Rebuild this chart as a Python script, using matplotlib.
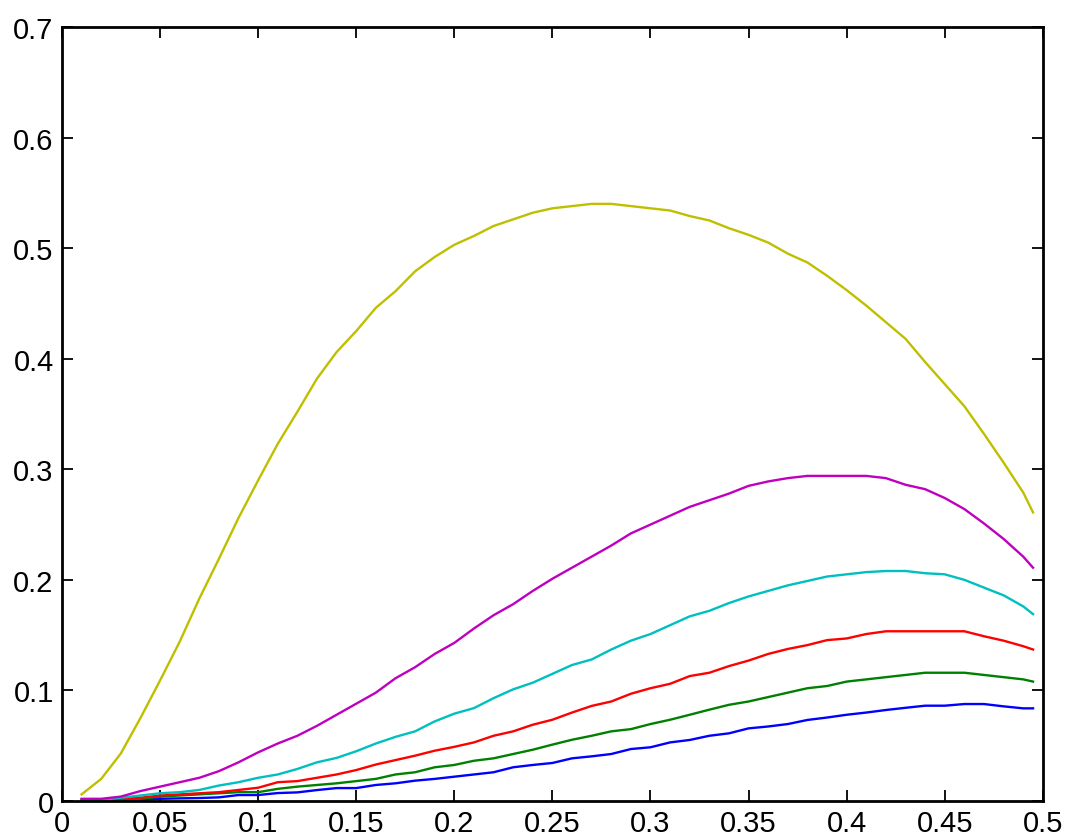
import matplotlib
matplotlib.use("Agg")
import matplotlib.pyplot as plt
from matplotlib.ticker import FormatStrFormatter

# x positions of the samples
x_vals = [0.01, 0.02, 0.03, 0.04, 0.05, 0.06, 0.07, 0.08, 0.09, 0.10,
          0.11, 0.12, 0.13, 0.14, 0.15, 0.16, 0.17, 0.18, 0.19, 0.20,
          0.21, 0.22, 0.23, 0.24, 0.25, 0.26, 0.27, 0.28, 0.29, 0.30,
          0.31, 0.32, 0.33, 0.34, 0.35, 0.36, 0.37, 0.38, 0.39, 0.40,
          0.41, 0.42, 0.43, 0.44, 0.45, 0.46, 0.47, 0.48, 0.49, 0.495]

blue = [0.0005, 0.0005, 0.001, 0.001, 0.002, 0.0024, 0.0027, 0.0033, 0.0054, 0.0054,
        0.0072, 0.0078, 0.0099, 0.0117, 0.0117, 0.0145, 0.016, 0.0184, 0.020, 0.022,
        0.024, 0.026, 0.0305, 0.0326, 0.0344, 0.0386, 0.0404, 0.0425, 0.047, 0.0486,
        0.053, 0.0552, 0.059, 0.0612, 0.0657, 0.0674, 0.0696, 0.0733, 0.0755, 0.078,
        0.080, 0.0823, 0.0843, 0.0862, 0.0862, 0.0877, 0.0877, 0.0856, 0.0838, 0.0838]

green = [0.001, 0.001, 0.001, 0.002, 0.004, 0.005, 0.006, 0.007, 0.008, 0.008,
         0.011, 0.013, 0.0145, 0.016, 0.018, 0.020, 0.024, 0.026, 0.0305, 0.0326,
         0.0364, 0.0386, 0.0425, 0.0464, 0.051, 0.0554, 0.059, 0.063, 0.065, 0.0696,
         0.0735, 0.078, 0.0826, 0.087, 0.090, 0.094, 0.098, 0.102, 0.104, 0.108,
         0.110, 0.112, 0.114, 0.116, 0.116, 0.116, 0.114, 0.112, 0.110, 0.108]

red = [0.001, 0.001, 0.002, 0.003, 0.005, 0.006, 0.007, 0.008, 0.010, 0.012,
       0.017, 0.018, 0.021, 0.024, 0.028, 0.033, 0.037, 0.041, 0.0455, 0.049,
       0.053, 0.059, 0.063, 0.069, 0.0735, 0.080, 0.086, 0.090, 0.097, 0.102,
       0.106, 0.113, 0.116, 0.122, 0.127, 0.133, 0.1375, 0.141, 0.1455, 0.147,
       0.151, 0.1535, 0.1535, 0.1535, 0.1535, 0.1535, 0.149, 0.145, 0.140, 0.137]

cyan = [0.001, 0.001, 0.003, 0.005, 0.007, 0.008, 0.010, 0.014, 0.017, 0.021,
        0.024, 0.029, 0.035, 0.039, 0.045, 0.052, 0.058, 0.063, 0.072, 0.079,
        0.084, 0.093, 0.101, 0.107, 0.115, 0.123, 0.128, 0.137, 0.145, 0.151,
        0.159, 0.167, 0.172, 0.179, 0.185, 0.190, 0.195, 0.199, 0.203, 0.205,
        0.207, 0.208, 0.208, 0.206, 0.205, 0.200, 0.193, 0.186, 0.176, 0.169]

magenta = [0.002, 0.002, 0.004, 0.009, 0.013, 0.017, 0.021, 0.027, 0.035, 0.044,
           0.052, 0.059, 0.068, 0.078, 0.088, 0.098, 0.111, 0.121, 0.133, 0.143,
           0.156, 0.168, 0.178, 0.190, 0.201, 0.211, 0.221, 0.231, 0.242, 0.250,
           0.258, 0.266, 0.272, 0.278, 0.285, 0.289, 0.292, 0.294, 0.294, 0.294,
           0.294, 0.292, 0.286, 0.282, 0.274, 0.264, 0.251, 0.237, 0.221, 0.211]

yellow = [0.006, 0.020, 0.043, 0.075, 0.109, 0.144, 0.183, 0.219, 0.256, 0.290,
          0.323, 0.352, 0.382, 0.406, 0.425, 0.446, 0.461, 0.479, 0.492, 0.503,
          0.511, 0.520, 0.526, 0.532, 0.536, 0.538, 0.540, 0.540, 0.538, 0.536,
          0.534, 0.529, 0.525, 0.518, 0.512, 0.505, 0.495, 0.487, 0.475, 0.462,
          0.448, 0.433, 0.418, 0.397, 0.377, 0.357, 0.332, 0.306, 0.279, 0.261]

x_ticks = [0, 0.05, 0.1, 0.15, 0.2, 0.25, 0.3, 0.35, 0.4, 0.45, 0.5]
y_ticks = [0, 0.1, 0.2, 0.3, 0.4, 0.5, 0.6, 0.7]

series = [blue, green, red, cyan, magenta, yellow]
colors = [(0, 0, 1), (0, 0.5, 0), (1, 0, 0), (0, 0.75, 0.75), (0.75, 0, 0.75), (0.75, 0.75, 0)]

plt.rcParams['font.family'] = ['Liberation Sans', 'DejaVu Sans']

fig = plt.figure(figsize=(10.72, 8.37), dpi=100)
ax = fig.add_axes([0.0578, 0.0418, 0.915, 0.9248])

for ys, col in zip(series, colors):
    ax.plot(x_vals, ys, color=col, linewidth=1.7)

ax.set_xlim(0, 0.5)
ax.set_ylim(0, 0.7)
ax.set_xticks(x_ticks)
ax.set_yticks(y_ticks)
ax.xaxis.set_major_formatter(FormatStrFormatter('%g'))
ax.yaxis.set_major_formatter(FormatStrFormatter('%g'))

# classic look: inward ticks on all four sides
ax.tick_params(direction='in', length=8, width=1.3, labelsize=21,
               top=True, right=True, pad=6)
for sp in ax.spines.values():
    sp.set_linewidth(2)

fig.savefig('out.png', dpi=100)
